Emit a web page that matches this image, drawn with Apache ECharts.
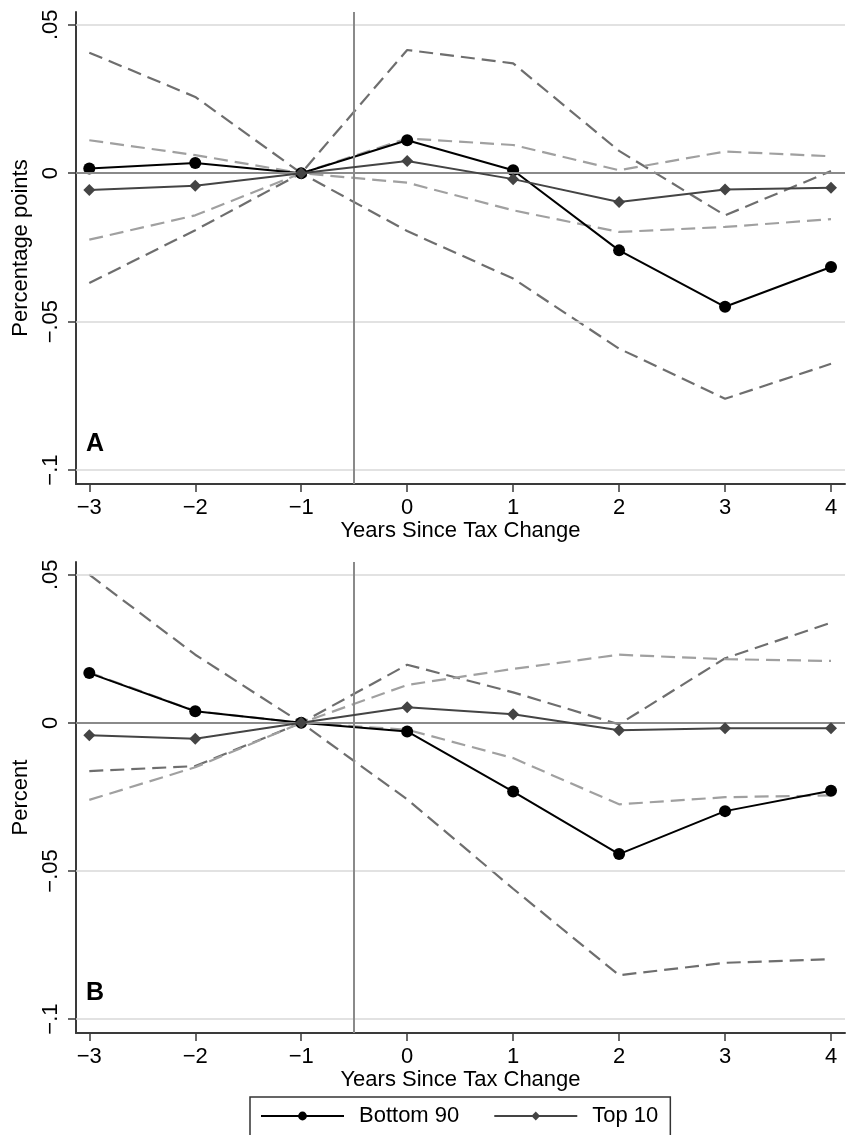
<!DOCTYPE html>
<html>
<head>
<meta charset="utf-8">
<script src="https://cdn.jsdelivr.net/npm/echarts@6/dist/echarts.min.js"></script>
<style>
html,body{margin:0;padding:0;background:#fff;}
#chart{width:851px;height:1135px;}
</style>
</head>
<body>
<div id="chart"></div>
<script>
// ---- data ----
var years = [-3, -2, -1, 0, 1, 2, 3, 4];
var xTickValues = [-3, -2, -1, 0, 1, 2, 3, 4];
var xTickLabels = ['\u22123', '\u22122', '\u22121', '0', '1', '2', '3', '4'];
var yTickValues = [-0.1, -0.05, 0, 0.05];
var yTickLabels = ['\u2212.1', '\u2212.05', '0', '.05'];
var taxChangeLine = -0.5;

// Panel A (Percentage points)
var aBottom90   = [0.0016, 0.0034, 0, 0.0111, 0.0010, -0.0260, -0.0450, -0.0316];
var aBottom90Hi = [0.0406, 0.0257, 0, 0.0415, 0.0370, 0.0075, -0.0142, 0.0007];
var aBottom90Lo = [-0.0370, -0.0192, 0, -0.0195, -0.0355, -0.0591, -0.0760, -0.0642];
var aTop10      = [-0.0057, -0.0042, 0, 0.0041, -0.0020, -0.0097, -0.0055, -0.0049];
var aTop10Hi    = [0.0111, 0.0061, 0, 0.0117, 0.0095, 0.0010, 0.0073, 0.0057];
var aTop10Lo    = [-0.0224, -0.0142, 0, -0.0032, -0.0125, -0.0198, -0.0181, -0.0155];

// Panel B (Percent)
var bBottom90   = [0.0168, 0.0039, 0, -0.0029, -0.0232, -0.0443, -0.0298, -0.0229];
var bBottom90Hi = [0.0500, 0.0230, 0, 0.0196, 0.0103, -0.0005, 0.0218, 0.0338];
var bBottom90Lo = [-0.0163, -0.0146, 0, -0.0258, -0.0560, -0.0852, -0.0810, -0.0798];
var bTop10      = [-0.0042, -0.0054, 0, 0.0053, 0.0029, -0.0025, -0.0018, -0.0018];
var bTop10Hi    = [0.0170, 0.0040, 0, 0.0128, 0.0182, 0.0230, 0.0215, 0.0209];
var bTop10Lo    = [-0.0260, -0.0150, 0, -0.0023, -0.0119, -0.0275, -0.0251, -0.0245];

// ---- helpers ----
var FONT = 'Liberation Sans';
var FS = 22;
function pairs(ys) { return years.map(function (x, i) { return [x, ys[i]]; }); }
function lookup(vals, labs, v) {
  for (var i = 0; i < vals.length; i++) if (Math.abs(vals[i] - v) < 1e-9) return labs[i];
  return '';
}
var Y_MIN = -0.1047, Y_MAX = 0.0543, X_MIN = -3.1255, X_MAX = 4.132;

function xAxisCfg(gi) {
  return {
    type: 'value', gridIndex: gi, min: X_MIN, max: X_MAX,
    name: 'Years Since Tax Change', nameLocation: 'middle', nameGap: 34,
    nameTextStyle: { fontFamily: FONT, fontSize: FS, color: '#000' },
    axisLine: { onZero: false, lineStyle: { color: '#3a3a3a', width: 2 } },
    axisTick: { show: true, length: 8, lineStyle: { color: '#3a3a3a', width: 1.5 }, customValues: xTickValues },
    axisLabel: { margin: 13, fontFamily: FONT, fontSize: FS, color: '#000', customValues: xTickValues,
      formatter: function (v) { return lookup(xTickValues, xTickLabels, v); } },
    splitLine: { show: false }
  };
}
function yAxisCfg(gi, name) {
  return {
    type: 'value', gridIndex: gi, min: Y_MIN, max: Y_MAX,
    name: name, nameLocation: 'middle', nameGap: 37, nameRotate: 90,
    nameTextStyle: { fontFamily: FONT, fontSize: FS, color: '#000' },
    axisLine: { onZero: false, lineStyle: { color: '#3a3a3a', width: 2 } },
    axisTick: { show: true, length: 8, lineStyle: { color: '#3a3a3a', width: 1.5 }, customValues: yTickValues },
    axisLabel: { margin: 14, rotate: 90, fontFamily: FONT, fontSize: FS, color: '#000', customValues: yTickValues,
      formatter: function (v) { return lookup(yTickValues, yTickLabels, v); } },
    splitLine: { show: false }
  };
}
function refSeries(gi) {
  var light = yTickValues.filter(function (v) { return v !== 0; }).map(function (v) {
    return { yAxis: v, lineStyle: { color: '#d9d9d9', width: 1.5, type: 'solid' } };
  });
  var dark = [
    { yAxis: 0, lineStyle: { color: '#8a8a8a', width: 2, type: 'solid' } },
    { xAxis: taxChangeLine, lineStyle: { color: '#8a8a8a', width: 2, type: 'solid' } }
  ];
  return {
    type: 'line', xAxisIndex: gi, yAxisIndex: gi, data: [], silent: true, z: 1,
    markLine: { symbol: 'none', silent: true, animation: false, label: { show: false },
      data: light.concat(dark) }
  };
}
function dashed(gi, ys, color) {
  return {
    type: 'line', xAxisIndex: gi, yAxisIndex: gi, data: pairs(ys), showSymbol: false, symbol: 'none',
    silent: true, z: 2, animation: false,
    lineStyle: { color: color, width: 2.2, type: [14, 7] }
  };
}
function bottom90(gi, ys) {
  return {
    name: 'Bottom 90', type: 'line', xAxisIndex: gi, yAxisIndex: gi, data: pairs(ys),
    symbol: 'circle', symbolSize: 12, z: 4, animation: false,
    itemStyle: { color: '#000' }, lineStyle: { color: '#000', width: 2 }
  };
}
function top10(gi, ys) {
  return {
    name: 'Top 10', type: 'line', xAxisIndex: gi, yAxisIndex: gi, data: pairs(ys),
    symbol: 'diamond', symbolSize: 12, z: 5, animation: false,
    itemStyle: { color: '#444' }, lineStyle: { color: '#444', width: 2 }
  };
}

var DARK_DASH = '#6e6e6e', LIGHT_DASH = '#a0a0a0';

var option = {
  backgroundColor: '#fff',
  animation: false,
  textStyle: { fontFamily: FONT },
  title: [
    { text: 'A', left: 86, top: 432, padding: 0, textStyle: { fontFamily: FONT, fontSize: 25, fontWeight: 'bold', color: '#000' } },
    { text: 'B', left: 86, top: 981, padding: 0, textStyle: { fontFamily: FONT, fontSize: 25, fontWeight: 'bold', color: '#000' } }
  ],
  legend: {
    data: ['Bottom 90', 'Top 10'],
    left: 250, top: 1097,
    orient: 'horizontal',
    padding: [8, 12, 40, 10],
    itemWidth: 83, itemHeight: 11, itemGap: 34,
    borderColor: '#333', borderWidth: 1.5,
    textStyle: { fontFamily: FONT, fontSize: FS, color: '#000', padding: [0, 0, 0, 10] }
  },
  grid: [
    { left: 76, right: 6, top: 12, height: 472 },
    { left: 76, right: 6, top: 562, height: 471 }
  ],
  xAxis: [xAxisCfg(0), xAxisCfg(1)],
  yAxis: [yAxisCfg(0, 'Percentage points'), yAxisCfg(1, 'Percent')],
  series: [
    refSeries(0),
    dashed(0, aBottom90Hi, DARK_DASH), dashed(0, aBottom90Lo, DARK_DASH),
    dashed(0, aTop10Hi, LIGHT_DASH), dashed(0, aTop10Lo, LIGHT_DASH),
    bottom90(0, aBottom90), top10(0, aTop10),
    refSeries(1),
    dashed(1, bBottom90Hi, DARK_DASH), dashed(1, bBottom90Lo, DARK_DASH),
    dashed(1, bTop10Hi, LIGHT_DASH), dashed(1, bTop10Lo, LIGHT_DASH),
    bottom90(1, bBottom90), top10(1, bTop10)
  ]
};

var chart = echarts.init(document.getElementById('chart'), null, { renderer: 'canvas' });
chart.setOption(option);
</script>
</body>
</html>
